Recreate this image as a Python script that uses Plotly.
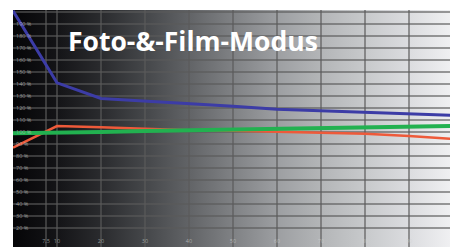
import base64
import plotly.graph_objects as go

# ---- data ----
x_vals = [0, 10, 20, 30, 40, 50, 60, 70, 80, 90, 100]
blue_vals = [201, 141, 128, 126, 124, 121.5, 119, 117.8, 116.5, 115.5, 114]
red_vals = [87, 105, 104, 102.5, 101.5, 101, 100.5, 99.5, 98.5, 96.7, 94.2]
green_vals = [99, 99.3, 100, 100.8, 101.3, 101.7, 102.3, 103, 103.6, 104.2, 105]

y_tickvals = list(range(10, 201, 10))
y_ticktext = [f"{v} %" for v in y_tickvals]
x_tickvals = [7.5, 10, 20, 30, 40, 50, 60, 70, 80, 90, 100]
x_ticktext = ["7,5", "10", "20", "30", "40", "50", "60", "70", "80", "90", "100"]
title_text = "Foto-&-Film-Modus"

# ---- gradient background (SVG) ----
stops = [(0.0, "#050507"), (0.1, "#141417"), (0.2, "#2a2b2e"), (0.3, "#45474a"),
         (0.4, "#626467"), (0.5, "#808285"), (0.6, "#9d9fa2"), (0.7, "#b4b6b8"),
         (0.8, "#c8cacc"), (0.9, "#dcdde0"), (1.0, "#f2f2f4")]
stop_xml = "".join(f'<stop offset="{o}" stop-color="{c}"/>' for o, c in stops)
svg = ('<svg xmlns="http://www.w3.org/2000/svg" width="100" height="100" preserveAspectRatio="none">'
       f'<defs><linearGradient id="g" x1="0" y1="0" x2="1" y2="0">{stop_xml}</linearGradient></defs>'
       '<rect x="0" y="0" width="100" height="100" fill="url(#g)"/></svg>')
svg_uri = "data:image/svg+xml;base64," + base64.b64encode(svg.encode()).decode()

fig = go.Figure()
fig.add_trace(go.Scatter(x=x_vals, y=red_vals, mode="lines",
                         line=dict(color="#ee5a3a", width=2.5), showlegend=False))
fig.add_trace(go.Scatter(x=x_vals, y=green_vals, mode="lines",
                         line=dict(color="#22b150", width=4), showlegend=False))
fig.add_trace(go.Scatter(x=x_vals, y=blue_vals, mode="lines",
                         line=dict(color="#3c3ca6", width=3), showlegend=False))

fig.add_layout_image(dict(source=svg_uri, xref="paper", yref="paper", x=0, y=1,
                          sizex=1, sizey=1, sizing="stretch", layer="below"))

fig.add_annotation(text=f"<b>{title_text}</b>", xref="paper", yref="paper",
                   x=(66 - 13) / 442, y=(247 - 41) / 237, xanchor="left", yanchor="middle",
                   showarrow=False, font=dict(family="Open Sans", size=26.5, color="white"))

grid = "rgba(90,90,90,0.6)"
tick_font = dict(family="Open Sans", size=5.5, color="rgba(210,210,210,0.65)")
fig.update_layout(
    width=450, height=239,
    margin=dict(l=5, r=3, t=2, b=0),
    paper_bgcolor="white", plot_bgcolor="rgba(0,0,0,0)",
    xaxis=dict(range=[0, 100.45], tickvals=x_tickvals, ticktext=x_ticktext,
               ticklabelposition="inside", showgrid=True, gridcolor=grid, gridwidth=1.5,
               zeroline=False, showline=False, tickfont=tick_font),
    yaxis=dict(range=[4.2, 201.7], tickvals=y_tickvals, ticktext=y_ticktext,
               ticklabelposition="inside", showgrid=True, gridcolor=grid, gridwidth=1.5,
               zeroline=False, showline=False, tickfont=tick_font),
)

fig.write_html("out.html")
